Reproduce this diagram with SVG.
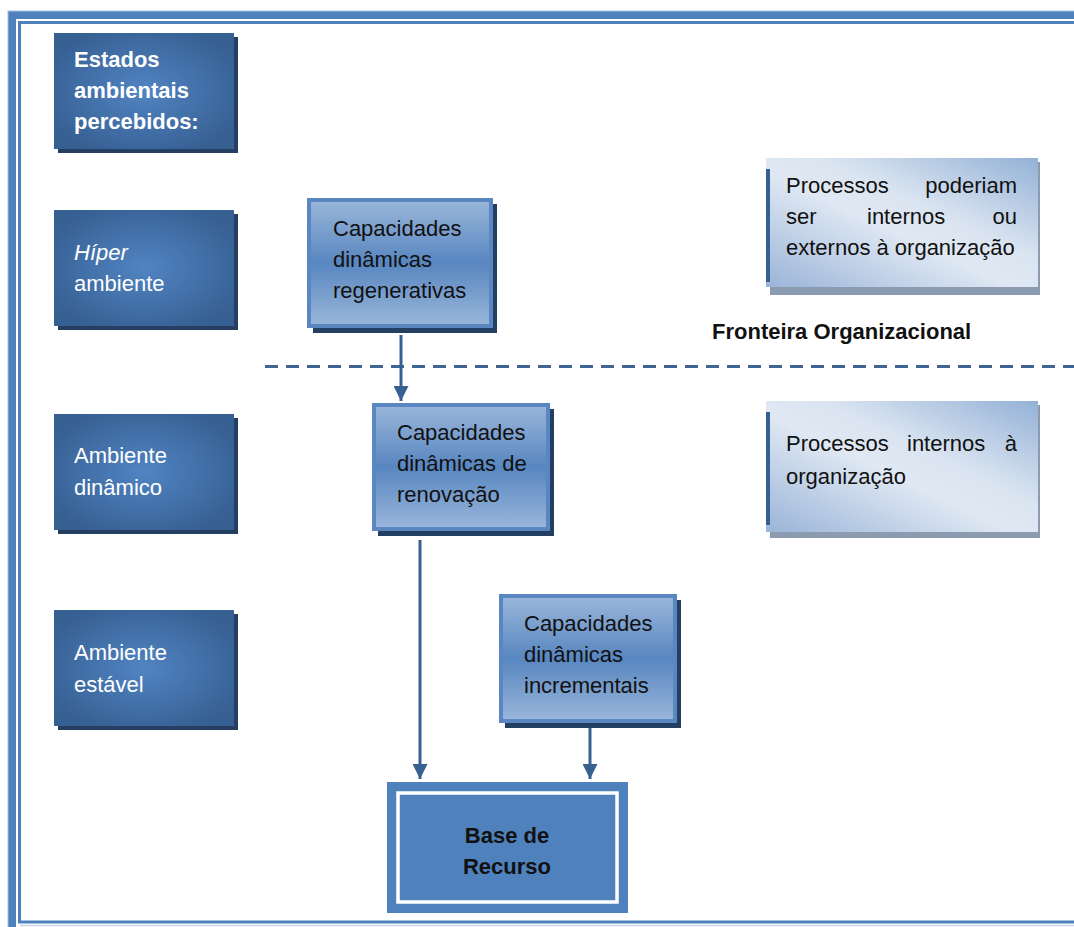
<svg xmlns="http://www.w3.org/2000/svg" width="1074" height="927" viewBox="0 0 1074 927">
  <defs>
    <radialGradient id="gDark" cx="0.5" cy="0.5" r="0.6">
      <stop offset="0" stop-color="#5184c2"/>
      <stop offset="1" stop-color="#365f92"/>
    </radialGradient>
    <linearGradient id="gCap" x1="0" y1="0" x2="0" y2="1">
      <stop offset="0" stop-color="#9ab7da"/>
      <stop offset="0.5" stop-color="#5886c0"/>
      <stop offset="1" stop-color="#9ab7da"/>
    </linearGradient>
    <linearGradient id="gNote" x1="0" y1="1" x2="1" y2="0">
      <stop offset="0" stop-color="#9ab4d8"/>
      <stop offset="0.45" stop-color="#dfe8f3"/>
      <stop offset="0.6" stop-color="#dbe5f1"/>
      <stop offset="1" stop-color="#93b1d6"/>
    </linearGradient>
    <marker id="arrow" viewBox="0 0 10 10" refX="10" refY="5" markerWidth="5" markerHeight="5" orient="auto" markerUnits="strokeWidth">
      <path d="M0,0 L10,5 L0,10 z" fill="#3a6092"/>
    </marker>
    <style>
      .t { font-family: "Liberation Sans", Arial, sans-serif; font-size: 22px; }
      .w { fill: #ffffff; }
      .k { fill: #111111; }
      .b { font-weight: bold; }
      .shDark { fill: #253f63; }
      .shGray { fill: #8d9bb0; }
      .dark { fill: url(#gDark); }
      .cap { fill: url(#gCap); stroke: #5a87c2; stroke-width: 4; }
      .note { fill: url(#gNote); }
      .bar { fill: #365f92; }
      .conn { stroke: #3a6092; stroke-width: 3; fill: none; marker-end: url(#arrow); }
    </style>
  </defs>

  <rect width="1074" height="927" fill="#ffffff"/>

  <!-- page frame -->
  <g id="frame" fill="none">
    <rect x="12" y="15" width="1090" height="930" stroke="#4f81bd" stroke-width="8"/>
    <rect x="8" y="11" width="1098" height="940" stroke="#a9c0df" stroke-width="1"/>
    <rect x="19.5" y="22.5" width="1080" height="899.5" stroke="#4f81bd" stroke-width="3"/>
    <line x1="20" y1="925.5" x2="1074" y2="925.5" stroke="#c7d6ea" stroke-width="1.5"/>
  </g>

  <!-- environment states column -->
  <g id="estados">
    <rect class="shDark" x="58" y="37" width="180" height="116"/>
    <rect class="dark" x="54" y="33" width="180" height="116"/>
    <text class="t w b" x="74" y="67">Estados</text>
    <text class="t w b" x="74" y="98">ambientais</text>
    <text class="t w b" x="74" y="129">percebidos:</text>
  </g>
  <g id="hiper">
    <rect class="shDark" x="58" y="214" width="180" height="116"/>
    <rect class="dark" x="54" y="210" width="180" height="116"/>
    <text class="t w" x="74" y="260" font-style="italic">Híper</text>
    <text class="t w" x="74" y="291">ambiente</text>
  </g>
  <g id="dinamico">
    <rect class="shDark" x="58" y="418" width="180" height="116"/>
    <rect class="dark" x="54" y="414" width="180" height="116"/>
    <text class="t w" x="74" y="463">Ambiente</text>
    <text class="t w" x="74" y="495">dinâmico</text>
  </g>
  <g id="estavel">
    <rect class="shDark" x="58" y="614" width="180" height="116"/>
    <rect class="dark" x="54" y="610" width="180" height="116"/>
    <text class="t w" x="74" y="660">Ambiente</text>
    <text class="t w" x="74" y="692">estável</text>
  </g>

  <!-- capability boxes -->
  <g id="regenerativas">
    <rect class="shDark" x="313" y="204" width="184" height="129"/>
    <rect class="cap" x="309" y="200" width="182" height="126"/>
    <text class="t k" x="333" y="236">Capacidades</text>
    <text class="t k" x="333" y="267">dinâmicas</text>
    <text class="t k" x="333" y="298">regenerativas</text>
  </g>
  <g id="renovacao">
    <rect class="shDark" x="378" y="409" width="176" height="127"/>
    <rect class="cap" x="374" y="405" width="174" height="124"/>
    <text class="t k" x="397" y="440">Capacidades</text>
    <text class="t k" x="397" y="471">dinâmicas de</text>
    <text class="t k" x="397" y="502">renovação</text>
  </g>
  <g id="incrementais">
    <rect class="shDark" x="505" y="600" width="176" height="128"/>
    <rect class="cap" x="501" y="596" width="174" height="125"/>
    <text class="t k" x="524" y="631">Capacidades</text>
    <text class="t k" x="524" y="662">dinâmicas</text>
    <text class="t k" x="524" y="693">incrementais</text>
  </g>

  <!-- resource base -->
  <g id="base">
    <rect x="387" y="782" width="241" height="131" fill="#4f81bd"/>
    <rect x="398" y="793" width="219" height="109" fill="none" stroke="#ffffff" stroke-width="3.5"/>
    <text class="t k b" x="507" y="843" text-anchor="middle">Base de</text>
    <text class="t k b" x="507" y="874" text-anchor="middle">Recurso</text>
  </g>

  <!-- process notes -->
  <g id="nota-externos">
    <rect class="shGray" x="770" y="162" width="270" height="133"/>
    <rect class="note" x="766" y="158" width="272" height="129"/>
    <rect class="bar" x="766" y="169" width="4" height="113"/>
    <text class="t k" x="786" y="193">Processos</text>
    <text class="t k" x="1017" y="193" text-anchor="end">poderiam</text>
    <text class="t k" x="786" y="224">ser</text>
    <text class="t k" x="867" y="224">internos</text>
    <text class="t k" x="1017" y="224" text-anchor="end">ou</text>
    <text class="t k" x="786" y="255">externos à organização</text>
  </g>
  <g id="nota-internos">
    <rect class="shGray" x="770" y="405" width="270" height="133"/>
    <rect class="note" x="766" y="401" width="272" height="131"/>
    <rect class="bar" x="766" y="412" width="4" height="113"/>
    <text class="t k" x="786" y="451">Processos</text>
    <text class="t k" x="907" y="451">internos</text>
    <text class="t k" x="1017" y="451" text-anchor="end">à</text>
    <text class="t k" x="786" y="484">organização</text>
  </g>

  <!-- organisational boundary -->
  <g id="fronteira">
    <line x1="265" y1="366.5" x2="1074" y2="366.5" stroke="#3f6494" stroke-width="3" stroke-dasharray="13 8"/>
    <text class="t k b" x="712" y="339">Fronteira Organizacional</text>
  </g>

  <!-- connectors -->
  <g id="connectors">
    <line class="conn" x1="401" y1="335" x2="401" y2="401"/>
    <line class="conn" x1="420" y1="540" x2="420" y2="779"/>
    <line class="conn" x1="590" y1="728" x2="590" y2="779"/>
  </g>
</svg>
